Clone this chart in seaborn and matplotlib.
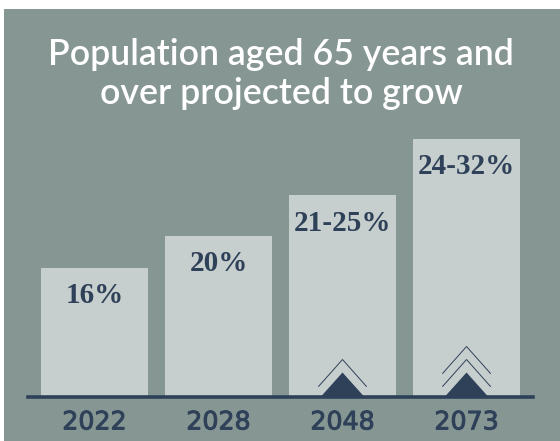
import matplotlib
matplotlib.use("Agg")
import matplotlib.pyplot as plt
import matplotlib.patheffects as pe
from matplotlib.patches import Polygon, Rectangle
import seaborn as sns
import pandas as pd

years = ["2022", "2028", "2048", "2073"]
upper_share = [16, 20, 25, 32]
labels = ["16%", "20%", "21-25%", "24-32%"]
chevrons = [0, 0, 1, 2]
has_arrow = [False, False, True, True]
title_lines = "Population aged 65 years and\nover projected to grow"

PANEL = "#869693"
BAR = "#C7CFCE"
INK = "#2F4159"

W, H = 560, 441
sns.set_theme(style="white")
fig = plt.figure(figsize=(W / 100, H / 100), dpi=100, facecolor="white")

# Background panel sits just inside the white edge of the figure
fig.add_artist(Rectangle((4 / W, 0), 1 - 4 / W, 1 - 9 / H, transform=fig.transFigure,
                         facecolor=PANEL, edgecolor="none", zorder=-5))

# Axes box is laid out so that one percentage point spans about 8 pixels
base_y, px_per_pct = 396.5, 8.05
ax = fig.add_axes([28 / W, (H - base_y) / H, 505 / W, 258 / H])
ax.patch.set_alpha(0)

df = pd.DataFrame({"year": years, "share": upper_share})
sns.barplot(data=df, x="year", y="share", order=years, color=BAR, saturation=1,
            width=0.863, linewidth=0, edgecolor="none", ax=ax)
ax.set_xlim(-0.536, 3.536)
ax.set_ylim(0, 258 / px_per_pct)

for side in ("top", "left", "right"):
    ax.spines[side].set_visible(False)
ax.spines["bottom"].set_color(INK)
ax.spines["bottom"].set_linewidth(2.6)
ax.spines["bottom"].set_zorder(6)
ax.set_xlabel("")
ax.set_ylabel("")
ax.set_yticks([])
ax.tick_params(axis="x", length=0, pad=10)
for tick in ax.get_xticklabels():
    tick.set_fontfamily("DejaVu Sans")
    tick.set_fontsize(18.2)
    tick.set_color(INK)
    # Thin outline gives the year labels a medium weight
    tick.set_path_effects([pe.withStroke(linewidth=0.7, foreground=INK)])

# Value labels hang a fixed distance below the top of each bar
for i, (val, lab) in enumerate(zip(upper_share, labels)):
    ax.annotate(lab, (i, val), xytext=(0, -10.5), textcoords="offset points",
                ha="center", va="top", color=INK, fontsize=21,
                fontfamily="Liberation Serif", fontweight="bold")

# Arrow glyphs: a solid triangle with thin chevrons stacked above it
px_x = 1 / 124.0
for i, (show, n) in enumerate(zip(has_arrow, chevrons)):
    if not show:
        continue
    ax.add_patch(Polygon([(i - 21.5 * px_x, 0), (i, 24 / px_per_pct), (i + 21.5 * px_x, 0)],
                         closed=True, facecolor=INK, edgecolor="none", zorder=5))
    for k in range(n):
        lift = 10 + 13 * k
        ax.plot([i - 24 * px_x, i, i + 24 * px_x],
                [lift / px_per_pct, (lift + 27) / px_per_pct, lift / px_per_pct],
                color=INK, lw=0.7, zorder=5, solid_joinstyle="miter")

fig.text(281 / W, 1 - 74 / H, title_lines, ha="center", va="center", color="white",
         fontsize=25.7, fontfamily="Lato", fontweight="semibold", linespacing=1.2)

fig.savefig("out.png", dpi=100, facecolor=fig.get_facecolor())
